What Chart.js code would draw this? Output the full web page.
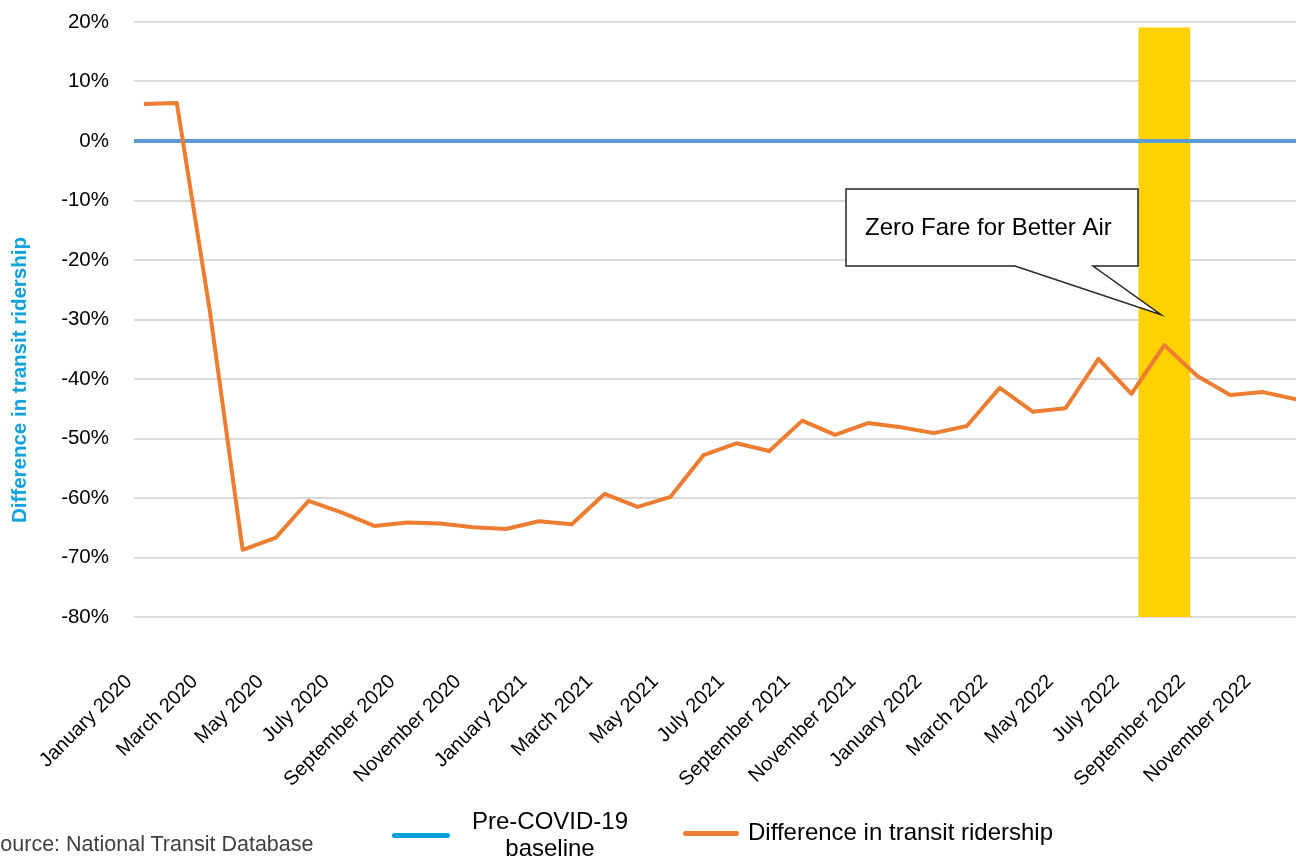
<!DOCTYPE html>
<html>
<head>
<meta charset="utf-8">
<script src="https://cdn.jsdelivr.net/npm/chart.js@4.4.1/dist/chart.umd.min.js"></script>
<style>
  html, body { margin: 0; padding: 0; background: #fff; overflow: hidden; }
  #wrap { position: relative; width: 1296px; height: 858px; font-family: "Liberation Sans", Arial, sans-serif; }
  #yTitle { position: absolute; left: 19px; top: 380px; transform: translate(-50%, -50%) rotate(-90deg);
    white-space: nowrap; font-weight: bold; font-size: 20.5px; color: #0ea1dc; }
  .swatch { position: absolute; height: 5px; border-radius: 3px; }
  .legText { position: absolute; font-size: 24px; color: #000; white-space: nowrap; }
  #source { position: absolute; left: -14px; top: 832px; font-size: 21.5px; color: #404040; white-space: nowrap; }
</style>
</head>
<body>
<div id="wrap">
  <canvas id="ridershipChart"></canvas>
  <div id="yTitle">Difference in transit ridership</div>
  <div class="swatch" style="left:392px; top:833px; width:58px; background:#00a0dc;"></div>
  <div class="legText" style="left:465px; top:807px; width:170px; text-align:center; line-height:27px;">Pre-COVID-19<br>baseline</div>
  <div class="swatch" style="left:683px; top:831px; width:56px; background:#ed7d31;"></div>
  <div class="legText" style="left:748px; top:818px; line-height:28px;">Difference in transit ridership</div>
  <div id="source">Source: National Transit Database</div>
</div>
<script>
// months on the category axis
const monthNames = ["January", "February", "March", "April", "May", "June", "July",
  "August", "September", "October", "November", "December"];
const years = [2020, 2021, 2022];
const months = [];
years.forEach(y => monthNames.forEach(m => months.push(m + " " + y)));

// difference in transit ridership vs. pre-COVID baseline, in %
const ridership = [
  6.2, 6.4, -28.4, -68.7, -66.7, -60.5, -62.4, -64.7, -64.1, -64.3, -64.9, -65.2,
  -63.9, -64.4, -59.3, -61.5, -59.8, -52.8, -50.8, -52.1, -47.0, -49.4, -47.4, -48.1,
  -49.1, -47.9, -41.5, -45.5, -44.9, -36.6, -42.5, -34.3, -39.5, -42.7, -42.2, -43.4
];

const baselineValue = 0;
const highlightMonth = "August 2022"; // Zero Fare for Better Air
const highlightRange = [-80, 19];

const yTicks = [20, 10, 0, -10, -20, -30, -40, -50, -60, -70, -80];
const xMin = -0.3, xMax = 35;

const fontFamily = "'Liberation Sans', Arial, sans-serif";

// callout box "Zero Fare for Better Air"
const calloutPlugin = {
  id: "callout",
  afterDatasetsDraw(chart) {
    const ctx = chart.ctx;
    const xs = chart.scales.x, ys = chart.scales.y;
    const tipX = xs.getPixelForValue(months.indexOf(highlightMonth) - 0.1);
    const tipY = ys.getPixelForValue(-29.2);
    const l = 846, t = 189, r = 1138, b = 266;
    ctx.save();
    ctx.beginPath();
    ctx.moveTo(l, t);
    ctx.lineTo(r, t);
    ctx.lineTo(r, b);
    ctx.lineTo(1093, b);
    ctx.lineTo(tipX, tipY);
    ctx.lineTo(1015, b);
    ctx.lineTo(l, b);
    ctx.closePath();
    ctx.fillStyle = "#ffffff";
    ctx.fill();
    ctx.lineWidth = 1.5;
    ctx.strokeStyle = "#262626";
    ctx.stroke();
    ctx.fillStyle = "#000000";
    ctx.font = "24px " + fontFamily;
    ctx.textBaseline = "middle";
    ctx.fillText("Zero Fare for Better Air", 865, 228);
    ctx.restore();
  }
};

const ctx = document.getElementById("ridershipChart").getContext("2d");
new Chart(ctx, {
  type: "line",
  data: {
    datasets: [
      {
        label: "Difference in transit ridership",
        data: ridership.map((v, i) => ({ x: i, y: v })),
        borderColor: "#ed7d31",
        borderWidth: 4,
        borderJoinStyle: "round",
        pointRadius: 0,
        tension: 0,
        order: 1,
      },
      {
        label: "Pre-COVID-19 baseline",
        data: [{ x: xMin, y: baselineValue }, { x: xMax, y: baselineValue }],
        borderColor: "#5b9bd5",
        borderWidth: 4,
        pointRadius: 0,
        order: 2,
      },
      {
        type: "bar",
        label: highlightMonth,
        data: [{ x: months.indexOf(highlightMonth), y: highlightRange }],
        backgroundColor: "#ffd100",
        barThickness: 51,
        order: 3,
      },
    ],
  },
  options: {
    responsive: true,
    maintainAspectRatio: false,
    animation: false,
    layout: { padding: { top: 22, right: 0, bottom: 0, left: 0 } },
    plugins: {
      legend: { display: false },
      tooltip: { enabled: false },
    },
    scales: {
      x: {
        type: "linear",
        min: xMin,
        max: xMax,
        offset: false,
        grid: { display: false, drawTicks: false },
        border: { display: false },
        afterBuildTicks: (axis) => {
          axis.ticks = months.map((m, i) => i).filter(i => i % 2 === 0).map(i => ({ value: i }));
        },
        afterFit: (axis) => {
          axis.height = 241;
          axis.paddingLeft = 0;
          axis.paddingRight = 0;
        },
        ticks: {
          autoSkip: false,
          minRotation: 45,
          maxRotation: 45,
          padding: 53,
          labelOffset: -15,
          color: "#000",
          font: { family: fontFamily, size: 20 },
          callback: (v) => months[v],
        },
      },
      y: {
        min: -80,
        max: 20,
        afterBuildTicks: (axis) => {
          axis.ticks = yTicks.map(v => ({ value: v }));
        },
        afterFit: (axis) => {
          axis.width = 134;
          axis.paddingTop = 0;
          axis.paddingBottom = 0;
        },
        grid: { color: "#d9d9d9", lineWidth: 2, drawTicks: false },
        border: { display: false },
        ticks: {
          padding: 25,
          color: "#000",
          font: { family: fontFamily, size: 20.5 },
          callback: (v) => v + "%",
        },
      },
    },
  },
  plugins: [calloutPlugin],
});
</script>
</body>
</html>
